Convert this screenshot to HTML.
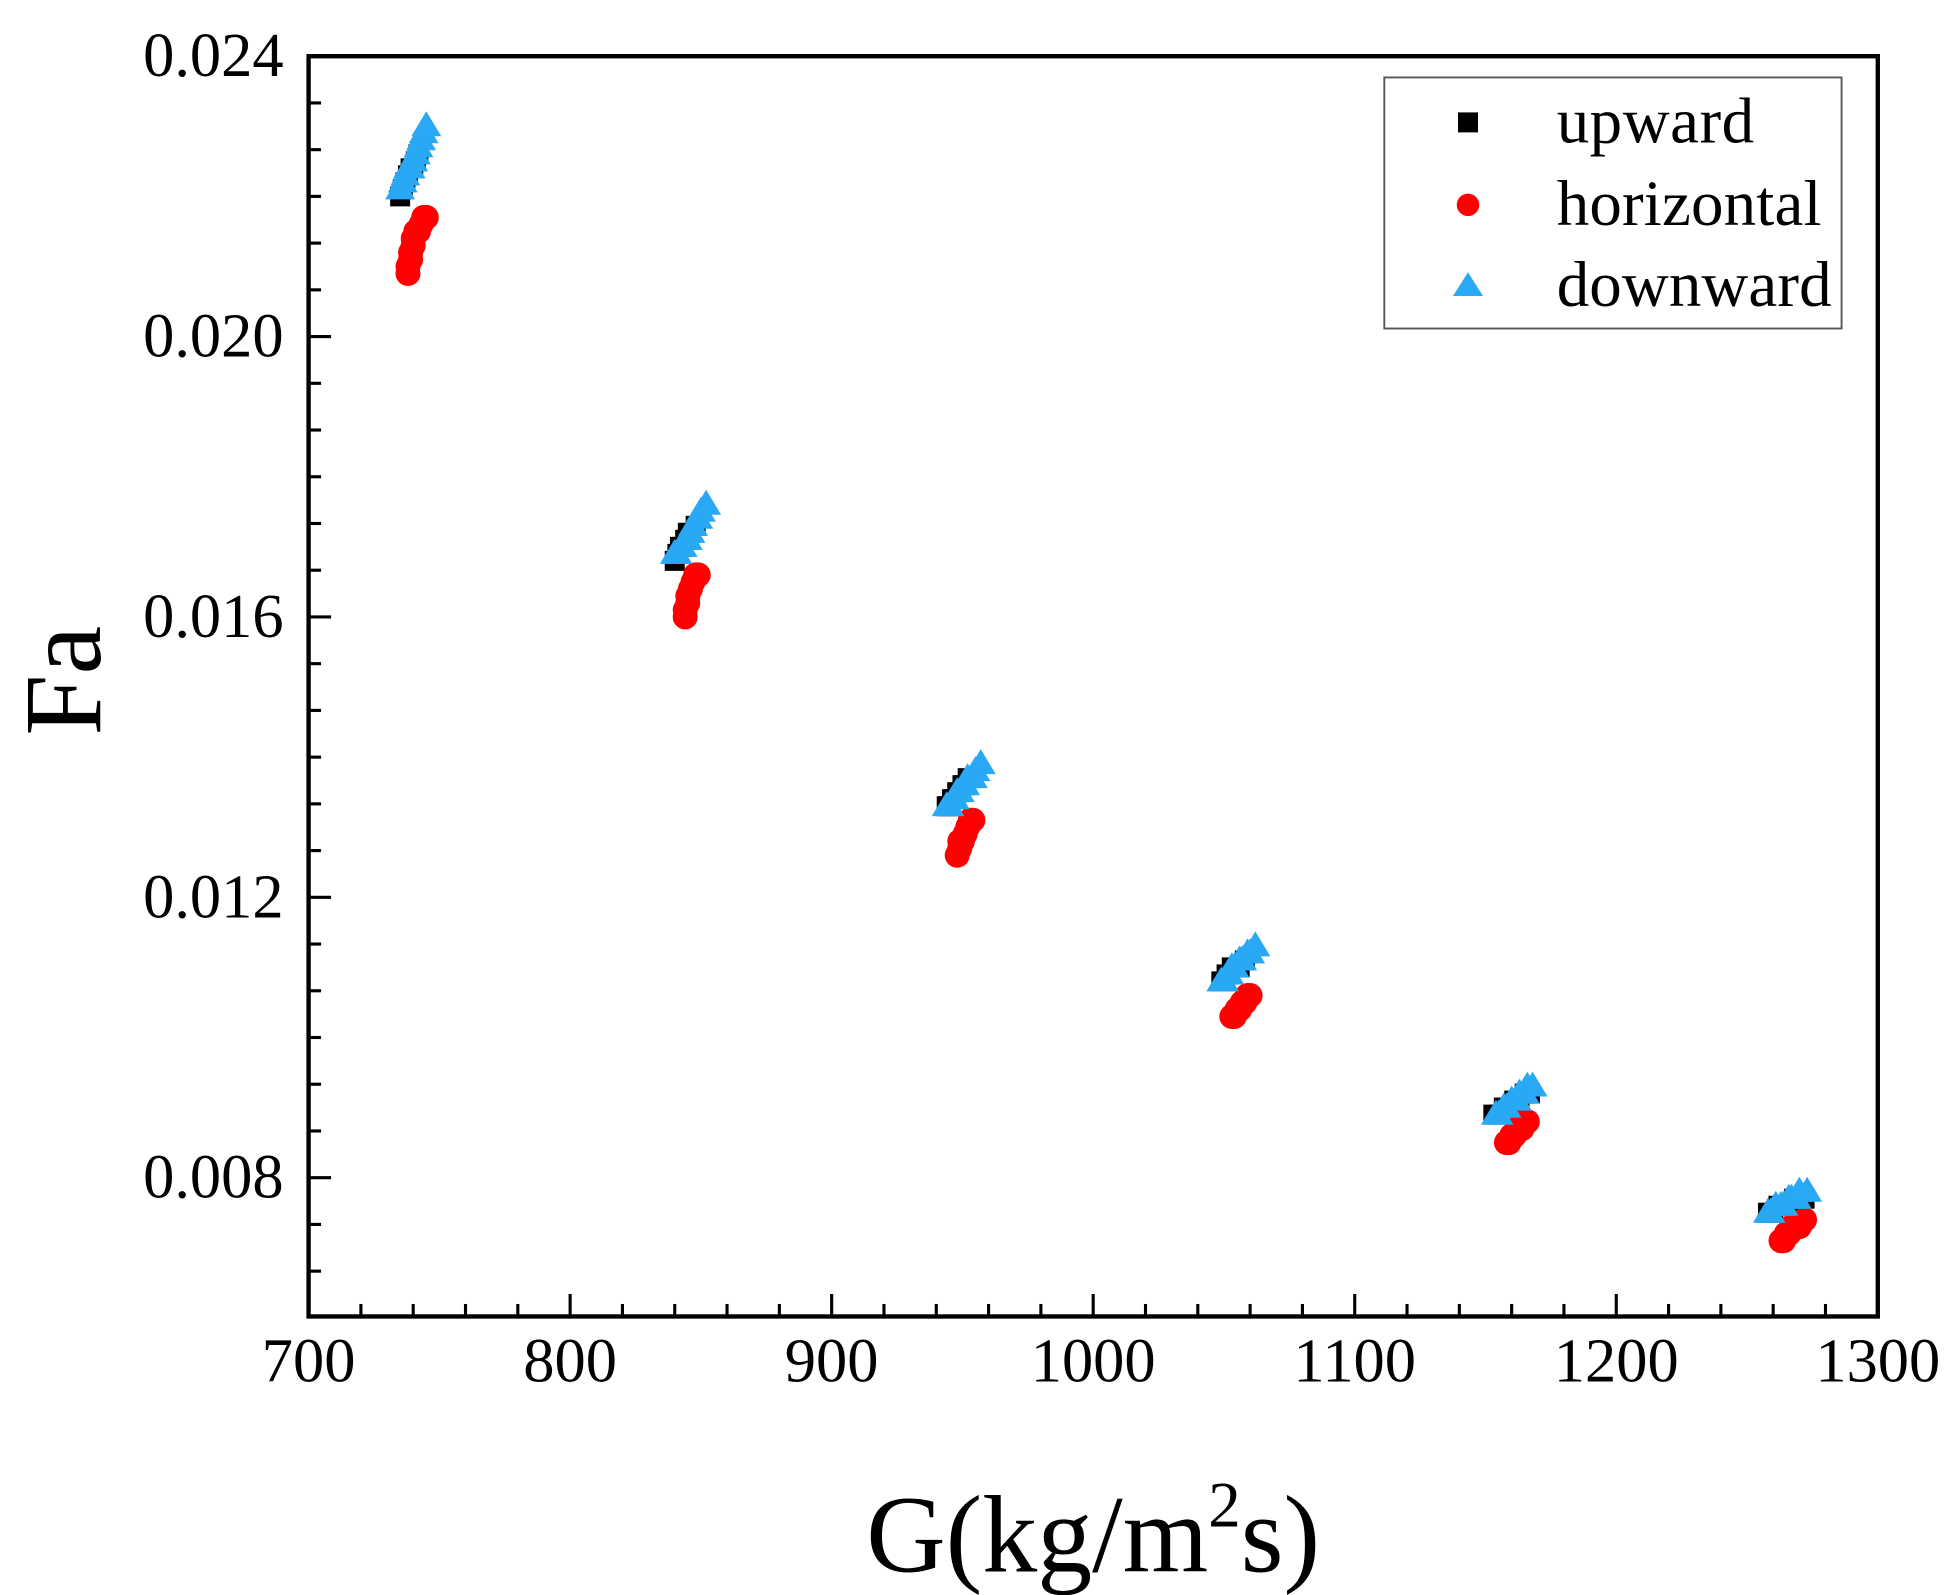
<!DOCTYPE html>
<html><head><meta charset="utf-8">
<style>html,body{margin:0;padding:0;background:#fff;}svg{display:block;}
text{font-family:"Liberation Serif",serif;fill:#000;}</style></head>
<body>
<svg id="chart" width="1959" height="1595" viewBox="0 0 1568 1277" preserveAspectRatio="none" xmlns="http://www.w3.org/2000/svg">
<rect width="1568" height="1277" fill="#fff"/>
<g id="marks"></g>
<g id="axes"></g>
<g id="legend">
  <rect x="1108" y="62" width="366" height="201" fill="#fff" stroke="#555" stroke-width="1.5"/>
  <rect x="1167" y="90" width="16" height="16" fill="#000"/>
  <text x="1246" y="114" font-size="52" textLength="158">upward</text>
  <circle cx="1175" cy="164" r="9" fill="#f00"/>
  <text x="1246" y="180" font-size="52" textLength="212">horizontal</text>
  <polygon points="1175,218 1163,237 1187,237" fill="#29a8f4"/>
  <text x="1246" y="245" font-size="52" textLength="220">downward</text>
</g>
<text x="875" y="1258" font-size="88" text-anchor="middle">G(kg/m<tspan font-size="52" dy="-36">2</tspan><tspan dy="36">s</tspan>)</text>
<text transform="translate(80,545) rotate(-90)" font-size="88" text-anchor="middle">Fa</text>
</svg>
<script>
const xTicks = [700, 800, 900, 1000, 1100, 1200, 1300];
const yTicks = [0.008, 0.012, 0.016, 0.020, 0.024];
const yTickLabels = ["0.008", "0.012", "0.016", "0.020", "0.024"];
const upG  = [735,736,737,738,739,740,741,742, 840,841,842,843,844,845,846,848, 944,945,946,947,948,950,951,952, 1049,1050,1051,1052,1053,1055,1056,1058, 1153,1155,1157,1159,1161,1163,1165,1167, 1258,1260,1262,1264,1266,1268,1270,1272];
const upFa = [0.0220,0.0221,0.0222,0.0223,0.0224,0.0224,0.0225,0.0226, 0.0168,0.0169,0.0170,0.0170,0.0171,0.0172,0.0172,0.0173, 0.0133,0.0133,0.0134,0.0134,0.0135,0.0136,0.0136,0.0137, 0.0108,0.0108,0.0109,0.0109,0.0110,0.0110,0.0110,0.0111, 0.0089,0.0089,0.0090,0.0090,0.0091,0.0091,0.0092,0.0092, 0.0075,0.0075,0.0076,0.0076,0.0076,0.0077,0.0077,0.0077];
const horG  = [738,738,739,739,740,740,741,742,743,744,745, 844,844,845,845,846,847,848,849, 948,949,949,950,951,952,953,954, 1053,1054,1055,1056,1057,1058,1059,1060, 1158,1159,1160,1161,1162,1164,1165,1166, 1263,1264,1265,1266,1267,1269,1270,1272];
const horFa = [0.0209,0.0210,0.0211,0.0212,0.0213,0.0214,0.0215,0.0215,0.0216,0.0217,0.0217, 0.0160,0.0161,0.0162,0.0163,0.0164,0.0165,0.0166,0.0166, 0.0126,0.0127,0.0128,0.0128,0.0129,0.0130,0.0131,0.0131, 0.0103,0.0103,0.0104,0.0104,0.0105,0.0105,0.0106,0.0106, 0.0085,0.0085,0.0086,0.0086,0.0087,0.0087,0.0088,0.0088, 0.0071,0.0071,0.0072,0.0072,0.0073,0.0073,0.0073,0.0074];
const downG  = [735,736,737,738,739,740,741,742,743,744,745, 840,841,843,844,845,846,847,849,850,852, 944,945,947,948,949,951,952,954,955,957, 1049,1050,1052,1053,1054,1056,1057,1059,1060,1062, 1154,1155,1157,1158,1160,1162,1163,1165,1166,1168, 1258,1259,1261,1263,1264,1266,1267,1269,1270,1273];
const downFa = [0.0221,0.0222,0.0223,0.0224,0.0224,0.0225,0.0226,0.0227,0.0228,0.0229,0.0230, 0.0169,0.0169,0.0170,0.0171,0.0171,0.0172,0.0173,0.0174,0.0175,0.0176, 0.0133,0.0133,0.0134,0.0135,0.0135,0.0136,0.0137,0.0137,0.0138,0.0139, 0.0108,0.0108,0.0109,0.0110,0.0110,0.0111,0.0111,0.0112,0.0112,0.0113, 0.0089,0.0089,0.0090,0.0090,0.0091,0.0091,0.0092,0.0092,0.0093,0.0093, 0.0075,0.0075,0.0076,0.0076,0.0076,0.0077,0.0077,0.0077,0.0078,0.0078];

const L=247,R=1503,T=45,B=1054;
const xMin=700,xMax=1300,yMin=0.00602,yMax=0.024;
function sx(v){return L+(v-xMin)/(xMax-xMin)*(R-L);}
function sy(v){return B-(v-yMin)/(yMax-yMin)*(B-T);}
const NS="http://www.w3.org/2000/svg";
function mk(tag,attrs,parent){const e=document.createElementNS(NS,tag);for(const k in attrs)e.setAttribute(k,attrs[k]);parent.appendChild(e);return e;}
const axes=document.getElementById('axes'), marks=document.getElementById('marks');

const frame=mk('rect',{x:L,y:T,width:R-L,height:B-T,fill:'none',stroke:'#000','stroke-width':3.5},axes);


for(let v=700;v<=1300;v+=20){
  const major=(v%100===0);
  const t=mk('line',{x1:sx(v),x2:sx(v),y1:B,y2:B-(major?18:10),stroke:'#000','stroke-width':2.5},axes);
  
  
}
xTicks.forEach(v=>{
  const t=mk('text',{x:sx(v),y:B+52,'font-size':50,'text-anchor':'middle'},axes);
  t.textContent=v;
  
  
});
const step=0.004/6;
for(let i=-3;i<=27;i++){
  const v=0.008+i*step; if(v<yMin-1e-9||v>yMax+1e-9) continue;
  const major=(((i%6)+6)%6===0);
  const t=mk('line',{x1:L,x2:L+(major?18:10),y1:sy(v),y2:sy(v),stroke:'#000','stroke-width':2.5},axes);
  
  
}
yTicks.forEach((v,i)=>{
  const t=mk('text',{x:L-20,y:sy(v)+16,'font-size':50,'text-anchor':'end'},axes);
  t.textContent=yTickLabels[i];
  
  
});
upG.forEach((g,i)=>{
  const e=mk('rect',{x:sx(g)-8,y:sy(upFa[i])-8,width:16,height:16,fill:'#000'},marks);
  
  
});
horG.forEach((g,i)=>{
  const e=mk('circle',{cx:sx(g),cy:sy(horFa[i]),r:10,fill:'#f00'},marks);
  
  
});
downG.forEach((g,i)=>{
  const x=sx(g),y=sy(downFa[i]);
  const e=mk('polygon',{points:`${x},${y-12} ${x-12},${y+8} ${x+12},${y+8}`,fill:'#29a8f4'},marks);
  
  
});
</script>
</body></html>
